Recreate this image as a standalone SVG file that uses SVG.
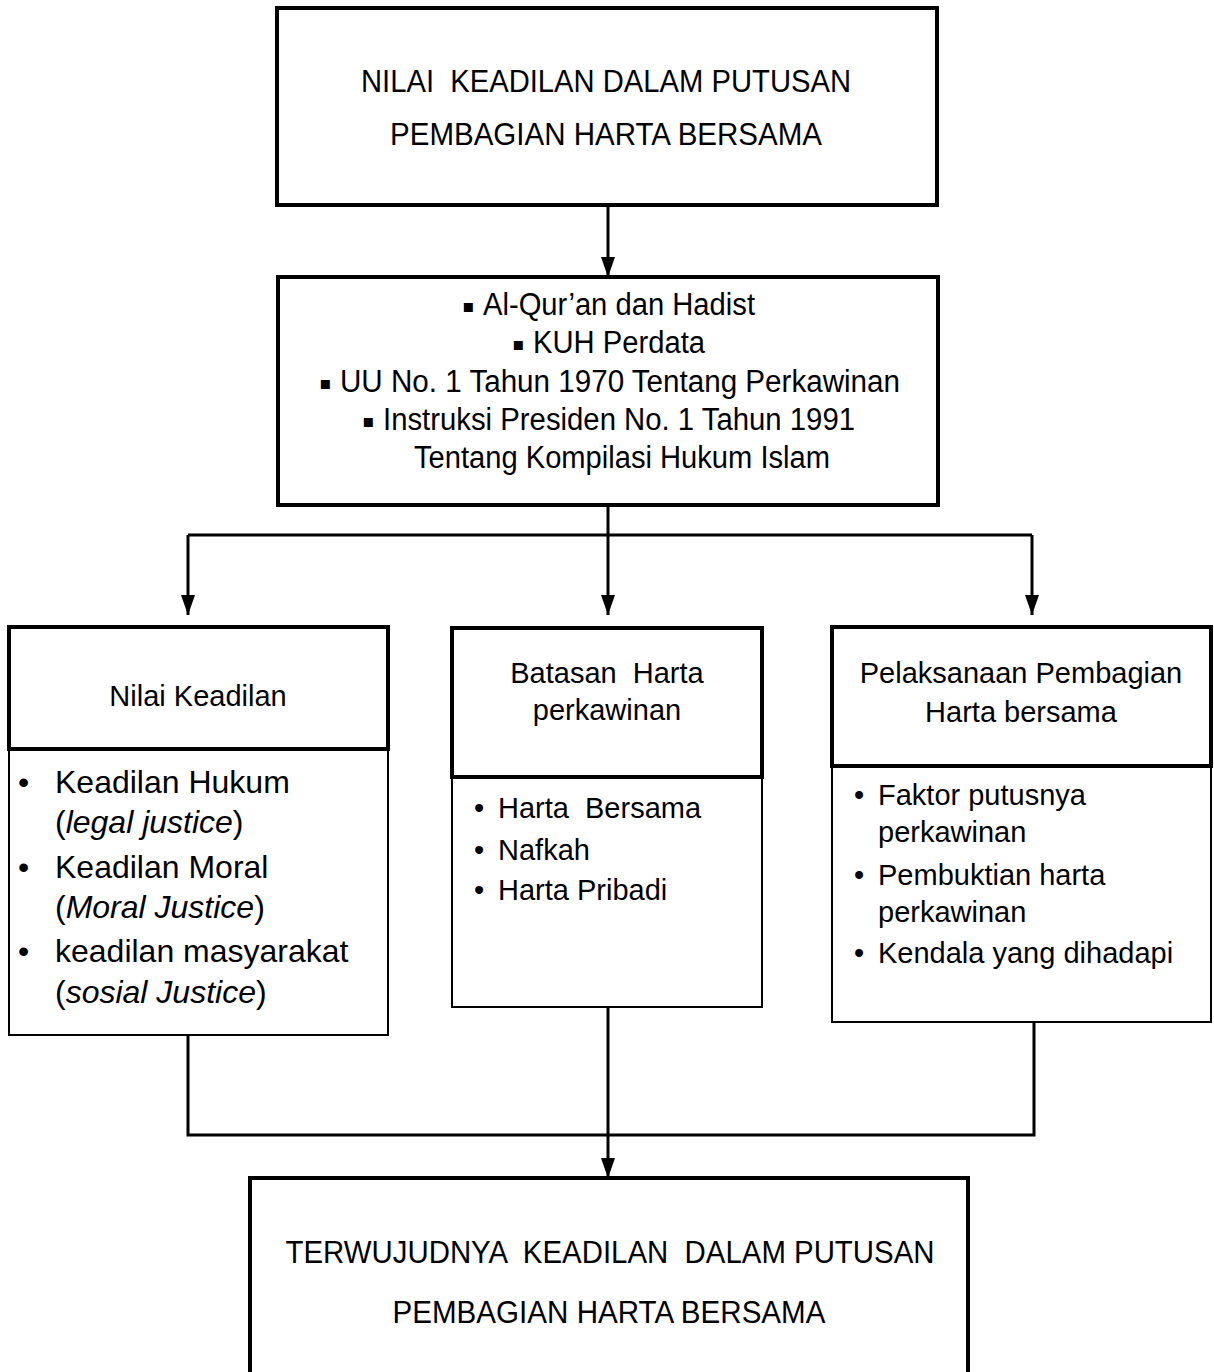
<svg xmlns="http://www.w3.org/2000/svg" width="1214" height="1372" viewBox="0 0 1214 1372">
<defs>
<style>
.t{font-family:"Liberation Sans",Arial,sans-serif;font-size:29px;fill:#000}
.big{font-size:32px}
.tall{font-size:31px}
.c{text-anchor:middle}
.thick{fill:#fff;stroke:#000;stroke-width:4}
.thin{fill:#fff;stroke:#000;stroke-width:2}
.conn{fill:none;stroke:#000;stroke-width:3}
.sq{font-family:"DejaVu Sans",sans-serif;font-size:18px}
</style>
<marker id="ah" viewBox="0 0 20 14" refX="20" refY="7" markerWidth="20" markerHeight="14" markerUnits="userSpaceOnUse" orient="auto">
<path d="M0,0 L20,7 L0,14 z" fill="#000"/>
</marker>
</defs>
<rect width="1214" height="1372" fill="#fff"/>

<g id="connectors">
<path class="conn" d="M608,205 V277" marker-end="url(#ah)"/>
<path class="conn" d="M608,505 V535"/>
<path class="conn" d="M188,535 H1032"/>
<path class="conn" d="M188,535 V615" marker-end="url(#ah)"/>
<path class="conn" d="M608,535 V615" marker-end="url(#ah)"/>
<path class="conn" d="M1032,535 V615" marker-end="url(#ah)"/>
<path class="conn" d="M188,1035 V1135 H1034 V1022"/>
<path class="conn" d="M608,1007 V1178" marker-end="url(#ah)"/>
</g>

<g id="node-top">
<rect class="thick" x="277" y="8" width="660" height="197"/>
<text class="t tall c" x="606" y="92" textLength="490" lengthAdjust="spacingAndGlyphs" xml:space="preserve">NILAI  KEADILAN DALAM PUTUSAN</text>
<text class="t tall c" x="606" y="145" textLength="432" lengthAdjust="spacingAndGlyphs">PEMBAGIAN HARTA BERSAMA</text>
</g>

<g id="node-sources">
<rect class="thick" x="278" y="277" width="660" height="228"/>
<text class="sq" x="462" y="312">▪</text>
<text class="t tall" x="483" y="315" textLength="272" lengthAdjust="spacingAndGlyphs">Al-Qur’an dan Hadist</text>
<text class="sq" x="512" y="350">▪</text>
<text class="t tall" x="533" y="353" textLength="172" lengthAdjust="spacingAndGlyphs">KUH Perdata</text>
<text class="sq" x="319" y="389">▪</text>
<text class="t tall" x="340" y="392" textLength="560" lengthAdjust="spacingAndGlyphs">UU No. 1 Tahun 1970 Tentang Perkawinan</text>
<text class="sq" x="362" y="427">▪</text>
<text class="t tall" x="383" y="430" textLength="472" lengthAdjust="spacingAndGlyphs">Instruksi Presiden No. 1 Tahun 1991</text>
<text class="t tall" x="414" y="468" textLength="416" lengthAdjust="spacingAndGlyphs">Tentang Kompilasi Hukum Islam</text>
</g>

<g id="node-nilai-keadilan">
<rect class="thin" x="9" y="749" width="379" height="286"/>
<rect class="thick" x="9" y="627" width="379" height="122"/>
<text class="t c" x="198" y="706">Nilai Keadilan</text>
<text class="t big" x="18" y="793">•</text>
<text class="t big" x="55" y="793">Keadilan Hukum</text>
<text class="t big" x="55" y="833">(<tspan font-style="italic">legal justice</tspan>)</text>
<text class="t big" x="18" y="878">•</text>
<text class="t big" x="55" y="878">Keadilan Moral</text>
<text class="t big" x="55" y="918">(<tspan font-style="italic">Moral Justice</tspan>)</text>
<text class="t big" x="18" y="962">•</text>
<text class="t big" x="55" y="962">keadilan masyarakat</text>
<text class="t big" x="55" y="1003">(<tspan font-style="italic">sosial Justice</tspan>)</text>
</g>

<g id="node-batasan">
<rect class="thin" x="452" y="777" width="310" height="230"/>
<rect class="thick" x="452" y="628" width="310" height="149"/>
<text class="t c" x="607" y="683" xml:space="preserve">Batasan  Harta</text>
<text class="t c" x="607" y="720">perkawinan</text>
<text class="t" x="474" y="818">•</text>
<text class="t" x="498" y="818" xml:space="preserve">Harta  Bersama</text>
<text class="t" x="474" y="860">•</text>
<text class="t" x="498" y="860">Nafkah</text>
<text class="t" x="474" y="900">•</text>
<text class="t" x="498" y="900">Harta Pribadi</text>
</g>

<g id="node-pelaksanaan">
<rect class="thin" x="832" y="766" width="379" height="256"/>
<rect class="thick" x="832" y="627" width="379" height="139"/>
<text class="t c" x="1021" y="683">Pelaksanaan Pembagian</text>
<text class="t c" x="1021" y="722">Harta bersama</text>
<text class="t" x="854" y="805">•</text>
<text class="t" x="878" y="805">Faktor putusnya</text>
<text class="t" x="878" y="842">perkawinan</text>
<text class="t" x="854" y="885">•</text>
<text class="t" x="878" y="885">Pembuktian harta</text>
<text class="t" x="878" y="922">perkawinan</text>
<text class="t" x="854" y="963">•</text>
<text class="t" x="878" y="963">Kendala yang dihadapi</text>
</g>

<g id="node-bottom">
<rect class="thick" x="250" y="1178" width="718" height="210"/>
<text class="t tall c" x="610" y="1263" textLength="649" lengthAdjust="spacingAndGlyphs" xml:space="preserve">TERWUJUDNYA  KEADILAN  DALAM PUTUSAN</text>
<text class="t tall c" x="609" y="1323" textLength="433" lengthAdjust="spacingAndGlyphs">PEMBAGIAN HARTA BERSAMA</text>
</g>
</svg>
